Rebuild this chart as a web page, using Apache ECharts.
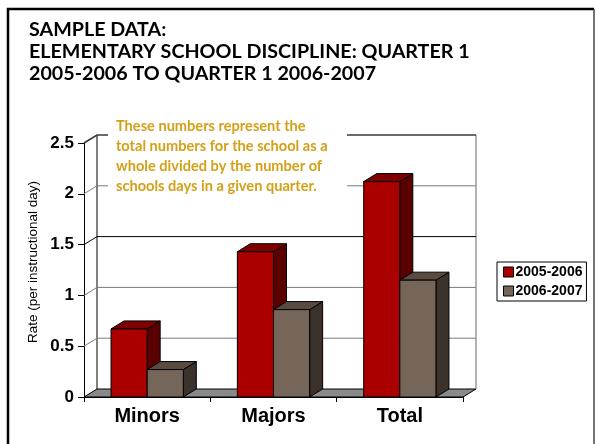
<!DOCTYPE html>
<html><head><meta charset="utf-8">
<script src="https://cdn.jsdelivr.net/npm/echarts@6/dist/echarts.min.js"></script>
<style>html,body{margin:0;padding:0;background:#fff}#c{width:596px;height:444px}</style>
</head><body><div id="c"></div>
<script>
const titleLines = ['SAMPLE DATA:', 'ELEMENTARY SCHOOL DISCIPLINE: QUARTER 1', '2005-2006 TO QUARTER 1 2006-2007'];
const categories = ['Minors', 'Majors', 'Total'];
const seriesNames = ['2005-2006', '2006-2007'];
const values2005 = [0.67, 1.43, 2.12];
const values2006 = [0.27, 0.86, 1.15];
const yTicks = [0, 0.5, 1, 1.5, 2, 2.5];
const yAxisTitle = 'Rate (per instructional day)';
const noteLines = ['These numbers represent the', 'total numbers for the school as a', 'whole divided by the number of', 'schools days in a given quarter.'];

const DX = 13, DY = -8;
const BAR_FRAC = 0.286;
const colors = [
  {front: '#ab0000', top: '#7e0000', side: '#5a0000'},
  {front: '#766659', top: '#5a4b41', side: '#3b322c'}
];
const gridColors = {0.5: '#7a7a7a', 1: '#7a7a7a', 1.5: '#000000', 2: '#7a7a7a', 2.5: '#3a3a3a'};

function wallRender(params, api) {
  const cs = params.coordSys;
  const v = api.value(1);
  const y = api.coord([0, v])[1];
  const xl = cs.x, xr = cs.x + cs.width;
  const yTop = api.coord([0, yTicks[yTicks.length - 1]])[1];
  const children = [];
  if (v === 0) {
    children.push({type: 'polygon', shape: {points: [[xl, y], [xl + DX, y + DY], [xr + DX, y + DY], [xr, y]]},
      style: {fill: '#8a8a8a', stroke: '#000', lineWidth: 1}});
    children.push({type: 'line', shape: {x1: xl + DX, y1: y + DY, x2: xl + DX, y2: yTop + DY}, style: {stroke: '#000', lineWidth: 1}});
    children.push({type: 'line', shape: {x1: xr + DX, y1: y + DY, x2: xr + DX, y2: yTop + DY}, style: {stroke: '#808080', lineWidth: 1.2}});
  } else {
    children.push({type: 'polyline', shape: {points: [[xl, y], [xl + DX, y + DY], [xr + DX, y + DY]]},
      style: {stroke: gridColors[v] || '#7a7a7a', lineWidth: v === 2.5 ? 1.6 : 1, fill: null}});
  }
  return {type: 'group', children};
}

function barRender(slot) {
  const c = colors[slot];
  return function (params, api) {
    const i = api.value(0), v = api.value(1);
    const base = api.coord([i, 0]);
    const top = api.coord([i, v]);
    const band = api.size([1, 0])[0];
    const w = band * BAR_FRAC;
    const x0 = base[0] + (slot === 0 ? -w : 0);
    const x1 = x0 + w;
    const yb = base[1], yt = top[1];
    const s = {stroke: '#000', lineWidth: 1};
    return {type: 'group', children: [
      {type: 'polygon', shape: {points: [[x1, yb], [x1 + DX, yb + DY], [x1 + DX, yt + DY], [x1, yt]]}, style: Object.assign({fill: c.side}, s)},
      {type: 'polygon', shape: {points: [[x0, yt], [x0 + DX, yt + DY], [x1 + DX, yt + DY], [x1, yt]]}, style: Object.assign({fill: c.top}, s)},
      {type: 'rect', shape: {x: x0, y: yt, width: w, height: yb - yt}, style: Object.assign({fill: c.front}, s)}
    ]};
  };
}

const chart = echarts.init(document.getElementById('c'), null, {renderer: 'canvas'});
const arial = 'Liberation Sans, Arial, sans-serif';
const calibri = 'Lato, Carlito, Calibri, sans-serif';

chart.setOption({
  backgroundColor: '#fff',
  animation: false,
  title: {
    text: titleLines.join('\n'), left: 29, top: 19, padding: 0,
    textStyle: {fontFamily: calibri, fontWeight: 'bold', fontSize: 19.7, lineHeight: 22, color: '#000'}
  },
  legend: {
    orient: 'vertical', left: 497, top: 262, data: seriesNames, icon: 'rect',
    itemWidth: 10, itemHeight: 10, itemGap: 5, padding: [3, 4, 3, 6],
    borderColor: '#000', borderWidth: 1, backgroundColor: '#fff',
    itemStyle: {borderColor: '#000', borderWidth: 1},
    textStyle: {fontFamily: arial, fontWeight: 'bold', fontSize: 14, color: '#000', padding: [0, 0, 0, -3]}
  },
  grid: {left: 84, top: 143, width: 379, height: 254, containLabel: false, outerBoundsMode: 'none'},
  xAxis: {
    type: 'category', data: categories,
    axisLine: {show: true, lineStyle: {color: '#000', width: 1}},
    axisTick: {show: true, length: 5, lineStyle: {color: '#000'}},
    axisLabel: {fontFamily: arial, fontWeight: 'bold', fontSize: 20, color: '#000', margin: 9},
    splitLine: {show: false}
  },
  yAxis: {
    type: 'value', min: 0, max: 2.5, interval: 0.5,
    axisLine: {show: true, lineStyle: {color: '#000', width: 1}},
    axisTick: {show: true, length: 6, lineStyle: {color: '#000'}},
    axisLabel: {fontFamily: arial, fontWeight: 'bold', fontSize: 17, color: '#000', margin: 10},
    splitLine: {show: false}
  },
  graphic: [
    {type: 'polyline', z: 100, shape: {points: [[8, 444], [8, 9], [594, 9]]}, style: {stroke: '#000', lineWidth: 2.5, fill: null}},
    {type: 'line', z: 100, shape: {x1: 594, y1: 9, x2: 594, y2: 444}, style: {stroke: '#444', lineWidth: 1.5}},
    {type: 'rect', z: 50, shape: {x: 108, y: 114, width: 239, height: 80}, style: {fill: '#fff'}},
    {type: 'text', z: 51, left: 116, top: 116,
      style: {text: noteLines.join('\n'), font: 'bold 14.6px ' + calibri, lineHeight: 20, fill: '#d4a017'}},
    {type: 'text', z: 51, x: 33, y: 262, rotation: Math.PI / 2,
      style: {text: yAxisTitle, font: '13.5px ' + arial, fill: '#000', align: 'center', verticalAlign: 'middle'}}
  ],
  series: [
    {type: 'custom', name: 'wall', silent: true, z: 1, renderItem: wallRender, data: yTicks.map(v => [0, v])},
    {type: 'custom', name: seriesNames[0], z: 3, renderItem: barRender(0),
      itemStyle: {color: colors[0].front, borderColor: '#000', borderWidth: 1},
      data: values2005.map((v, i) => [i, v])},
    {type: 'custom', name: seriesNames[1], z: 3, renderItem: barRender(1),
      itemStyle: {color: colors[1].front, borderColor: '#000', borderWidth: 1},
      data: values2006.map((v, i) => [i, v])}
  ]
});
</script></body></html>
